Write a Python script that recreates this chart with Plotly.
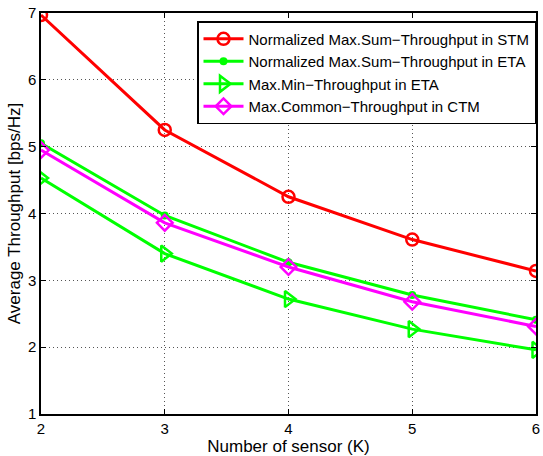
import plotly.graph_objects as go

K = [2, 3, 4, 5, 6]
sum_stm = [6.97, 5.25, 4.25, 3.61, 3.14]
sum_eta = [5.05, 3.97, 3.27, 2.78, 2.41]
min_eta = [4.53, 3.40, 2.72, 2.27, 1.96]
common_ctm = [4.95, 3.86, 3.20, 2.68, 2.31]

names = [
    "Normalized Max.Sum\u2212Throughput in STM",
    "Normalized Max.Sum\u2212Throughput in ETA",
    "Max.Min\u2212Throughput in ETA",
    "Max.Common\u2212Throughput in CTM",
]
x_ticks = [2, 3, 4, 5, 6]
y_ticks = [1, 2, 3, 4, 5, 6, 7]

fig = go.Figure()
fig.add_trace(go.Scatter(x=K, y=sum_stm, name=names[0], mode="lines+markers",
                         line=dict(color="#ff0000", width=3),
                         marker=dict(symbol="circle-open", size=12, color="#ff0000", line=dict(width=2.5))))
fig.add_trace(go.Scatter(x=K, y=sum_eta, name=names[1], mode="lines+markers",
                         line=dict(color="#00ff00", width=3),
                         marker=dict(symbol="circle", size=8, color="#00ff00")))
fig.add_trace(go.Scatter(x=K, y=min_eta, name=names[2], mode="lines+markers",
                         line=dict(color="#00ff00", width=3),
                         marker=dict(symbol="triangle-right-open", size=14, color="#00ff00", line=dict(width=2.5))))
fig.add_trace(go.Scatter(x=K, y=common_ctm, name=names[3], mode="lines+markers",
                         line=dict(color="#ff00ff", width=3),
                         marker=dict(symbol="diamond-open", size=12, color="#ff00ff", line=dict(width=2.5))))

axis_common = dict(showline=True, linecolor="black", linewidth=1.5, mirror="ticks",
                   ticks="inside", ticklen=5, tickcolor="black", tickwidth=1,
                   showgrid=True, gridcolor="#555555", griddash="1px,3px", gridwidth=1,
                   zeroline=False, tickfont=dict(size=15, color="black"))

fig.update_xaxes(range=[2, 6], tickvals=x_ticks,
                 title=dict(text="Number of sensor (K)", font=dict(size=17, color="black"), standoff=1),
                 **axis_common)
fig.update_yaxes(range=[1, 7], tickvals=y_ticks,
                 title=dict(text="Average Throughput [bps/Hz]", font=dict(size=17, color="black"), standoff=3),
                 **axis_common)

fig.update_layout(
    width=543, height=456,
    margin=dict(l=41, r=3, t=13, b=42),
    paper_bgcolor="white", plot_bgcolor="white",
    font=dict(family="Liberation Sans, Arial, sans-serif", color="black"),
    legend=dict(x=1.0, y=0.98, xanchor="right", yanchor="top",
                bgcolor="white", bordercolor="black", borderwidth=1.5,
                font=dict(size=15, color="black"), tracegroupgap=0,
                itemwidth=40),
    showlegend=True,
)

fig.write_html("out.html", config={"displayModeBar": False},
               post_script="document.body.style.margin='0';document.body.style.overflow='hidden';")
